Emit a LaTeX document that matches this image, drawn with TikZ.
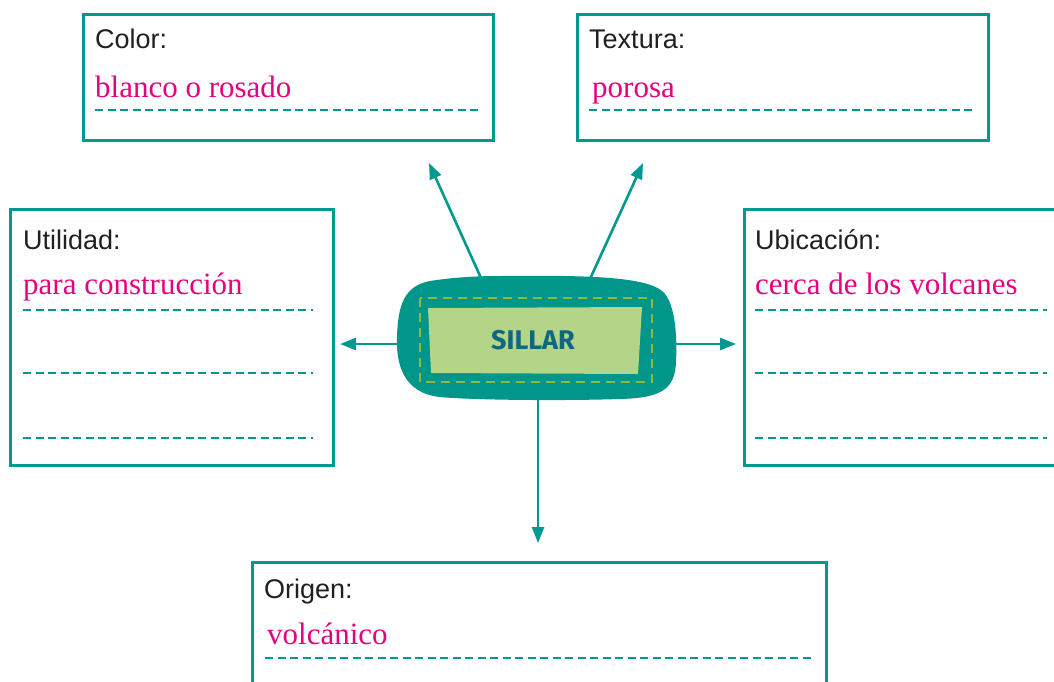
\documentclass[tikz,border=0pt]{standalone}
\usepackage{fontspec}
\setmainfont{Liberation Serif}
\setsansfont{Liberation Sans}
\newfontfamily\sillarfont{Fira Sans}
\usetikzlibrary{arrows.meta}
\definecolor{teal1}{RGB}{0,153,143}
\definecolor{blobc}{RGB}{0,150,138}
\definecolor{pinkc}{RGB}{230,0,126}
\definecolor{lgreen}{RGB}{180,212,136}
\definecolor{dgreen}{RGB}{141,185,60}
\definecolor{sillarc}{RGB}{14,104,128}
\definecolor{labelc}{RGB}{35,31,32}
\tikzset{
  infobox/.style={draw=teal1, line width=3pt, rectangle, inner sep=0pt, anchor=north west, fill=white},
  boxlabel/.style={font=\sffamily\fontsize{27}{30}\selectfont, text=labelc, anchor=base west, inner sep=0pt},
  answer/.style={font=\fontsize{31}{34}\selectfont, text=pinkc, anchor=base west, inner sep=0pt},
  dline/.style={draw=teal1, line width=2.4pt, dash pattern=on 8pt off 4.5pt},
  conn/.style={draw=teal1, line width=2.6pt, -{Triangle[length=16pt,width=12pt]}},
}
\begin{document}
\begin{tikzpicture}[x=1pt,y=-1pt]
\clip (0,0) rectangle (1054,681);
\fill[white] (0,0) rectangle (1054,681);

% boxes
\node[infobox, minimum width=410pt, minimum height=126pt] (colorbox) at (81.5,12.5) {};
\node[infobox, minimum width=411pt, minimum height=126pt] (texturabox) at (575.5,12.5) {};
\node[infobox, minimum width=323pt, minimum height=256pt] (utilbox) at (8.5,207.5) {};
\node[infobox, minimum width=400pt, minimum height=256pt] (ubicbox) at (742.5,207.5) {};
\node[infobox, minimum width=574pt, minimum height=200pt] (origbox) at (250.5,560.5) {};

% Color
\node[boxlabel] (colorlbl) at (95,48) {Color:};
\node[answer] (colorans) at (95,97) {blanco o rosado};
\draw[dline] (95,110) -- (482,110);

% Textura
\node[boxlabel] (texlbl) at (589,48) {Textura:};
\node[answer] (texans) at (592,97) {porosa};
\draw[dline] (589,110) -- (975,110);

% Utilidad
\node[boxlabel] (utillbl) at (23,249) {Utilidad:};
\node[answer] (utilans) at (23,294) {para construcción};
\draw[dline] (23,310) -- (313,310);
\draw[dline] (23,373) -- (313,373);
\draw[dline] (23,438) -- (313,438);

% Ubicacion
\node[boxlabel] (ubiclbl) at (755,249) {Ubicación:};
\node[answer] (ubicans) at (755,294) {cerca de los volcanes};
\draw[dline] (755,310) -- (1047,310);
\draw[dline] (755,373) -- (1047,373);
\draw[dline] (755,438) -- (1047,438);

% Origen
\node[boxlabel] (origlbl) at (264,598) {Origen:};
\node[answer] (origans) at (267,644) {volcánico};
\draw[dline] (265,658) -- (812,658);

% central blob
\fill[blobc] (500,276)
  .. controls (590,275) and (645,277) .. (662,291)
  .. controls (677,303) and (677,345) .. (676,362)
  .. controls (675,390) and (660,398) .. (620,399)
  .. controls (560,401) and (470,400) .. (440,397)
  .. controls (402,393) and (396,362) .. (397,337)
  .. controls (398,305) and (404,286) .. (430,281)
  .. controls (455,277) and (480,276) .. (500,276) -- cycle;
\fill[lgreen] (428,308) -- (642,307) -- (638,374) -- (431,373) -- cycle;
\draw[dgreen, line width=2.5pt, dash pattern=on 9pt off 6pt] (420,298) rectangle (652,382);
\node[font=\sillarfont\bfseries\fontsize{27}{30}\selectfont, text=sillarc, inner sep=0pt] (sillar) at (533,340) {SILLAR};

% connector end points
\coordinate (sA) at (481,278);
\coordinate (tA) at (429,163);
\coordinate (sB) at (590,279);
\coordinate (tB) at (643,163);
\coordinate (sC) at (399,344);
\coordinate (tC) at (340,344);
\coordinate (sD) at (674,344);
\coordinate (tD) at (736,344);
\coordinate (sE) at (538,398);
\coordinate (tE) at (538,543);

\draw[conn] (sA) -- (tA);
\draw[conn] (sB) -- (tB);
\draw[conn] (sC) -- (tC);
\draw[conn] (sD) -- (tD);
\draw[conn] (sE) -- (tE);
\end{tikzpicture}
\end{document}
